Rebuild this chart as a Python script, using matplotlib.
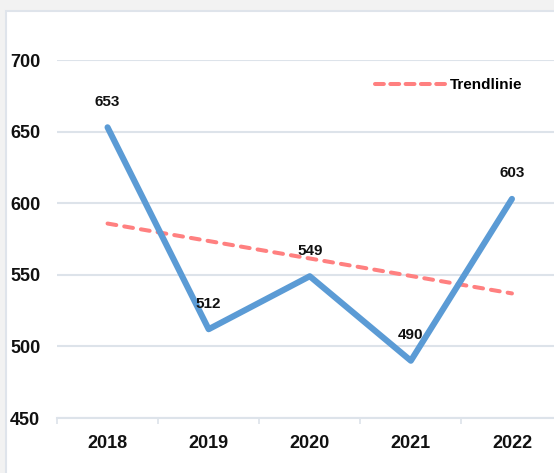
import numpy as np
import matplotlib
matplotlib.use("Agg")
import matplotlib.pyplot as plt
from matplotlib.patches import Rectangle
from matplotlib.lines import Line2D

years = ["2018", "2019", "2020", "2021", "2022"]
values = [653, 512, 549, 490, 603]
y_ticks = [450, 500, 550, 600, 650, 700]
trend_label = "Trendlinie"

line_color = "#5b9bd5"
trend_color = "#ff8080"
grid_color = "#dde3ea"

plt.rcParams["font.family"] = ["Liberation Sans", "DejaVu Sans"]
plt.rcParams["font.weight"] = "bold"

W, H = 554, 473
fig = plt.figure(figsize=(W / 100, H / 100), dpi=100)
fig.patch.set_facecolor("#f2f2f2")

# white chart panel with thin border
panel = Rectangle((6 / W, -0.05), 1.2, 1 - 11 / H + 0.05, transform=fig.transFigure,
                  facecolor="white", edgecolor="#dfe4eb", linewidth=1.5, zorder=-5)
fig.patches.append(panel)

ax = fig.add_axes([57 / W, 55 / H, 505.5 / W, 358 / H])
ax.set_zorder(2)
ax.set_facecolor("none")

x = np.arange(len(years))
ax.plot(x, values, color=line_color, linewidth=4.4, solid_capstyle="round",
        solid_joinstyle="round", zorder=3)

# linear trend fitted to the series
slope, intercept = np.polyfit(x, values, 1)
trend = slope * x + intercept
ax.plot([x[0], x[-1]], [trend[0], trend[-1]], color=trend_color, linewidth=2.9,
        linestyle=(0, (2.2, 2.0)), dash_capstyle="round", zorder=2)

for xi, v in zip(x, values):
    ax.annotate(str(v), (xi, v), xytext=(0, 15.5), textcoords="offset points",
                ha="center", va="baseline", fontsize=11, fontweight="bold",
                color="#111111", zorder=4)

ax.set_xlim(-0.5, 4.5)
ax.set_ylim(450, 700)
ax.set_yticks(y_ticks)
ax.set_yticklabels([str(t) for t in y_ticks])
ax.set_xticks(x)
ax.set_xticklabels(years)
ax.set_xticks(np.arange(-0.5, 5, 1.0), minor=True)

ax.tick_params(axis="y", length=0, pad=12, labelsize=13, labelcolor="#111111")
ax.tick_params(axis="x", which="major", length=0, pad=12, labelsize=13,
               labelcolor="#111111")
ax.tick_params(axis="x", which="minor", length=4.6, width=1.2, color=grid_color,
               direction="out")
for lab in ax.get_xticklabels() + ax.get_yticklabels():
    lab.set_fontweight("bold")

ax.yaxis.grid(True, color=grid_color, linewidth=1.5, zorder=0)
ax.set_axisbelow(True)
for s in ["top", "right", "left"]:
    ax.spines[s].set_visible(False)
ax.spines["bottom"].set_color(grid_color)
ax.spines["bottom"].set_linewidth(1.5)

handle = Line2D([], [], color=trend_color, linewidth=2.9, linestyle=(0, (2.2, 1.6)),
                dash_capstyle="round")
leg = ax.legend([handle], [trend_label], loc="upper left",
                bbox_to_anchor=(312 / 505.5, 1 - 12 / 358), frameon=False,
                handlelength=4.6, handletextpad=0.3, borderaxespad=0,
                prop={"size": 11, "weight": "bold"})

fig.savefig("out.png", dpi=100, facecolor=fig.get_facecolor())
